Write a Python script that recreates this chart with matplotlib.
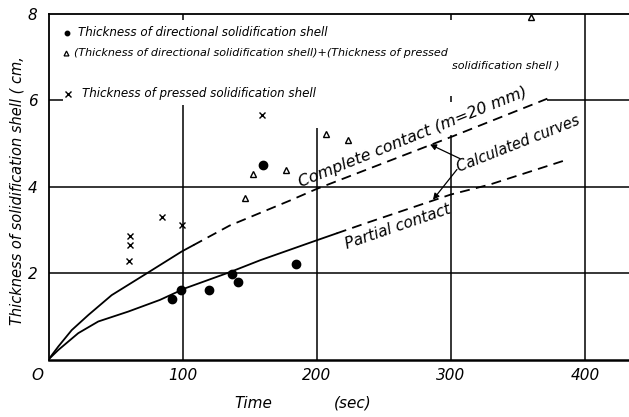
import numpy as np
import matplotlib
matplotlib.use("Agg")
import matplotlib.pyplot as plt

# ---------------- data ----------------
dir_t = [92, 99, 120, 136.5, 141, 184.5, 160]
dir_y = [1.40, 1.61, 1.61, 1.98, 1.80, 2.22, 4.51]

sum_t = [146.5, 152.7, 177.1, 206.7, 223.6, 360]
sum_y = [3.74, 4.30, 4.38, 5.22, 5.09, 7.92]

prs_t = [60.8, 60.8, 60, 85, 99.8, 159.4]
prs_y = [2.85, 2.66, 2.27, 3.31, 3.12, 5.65]

complete_t = [0, 7.3, 17.3, 29.7, 47.1, 72, 99.3, 135, 180, 200, 250, 300, 372]
complete_y = [0, 0.3, 0.68, 1.03, 1.49, 1.97, 2.5, 3.1, 3.68, 3.95, 4.55, 5.15, 6.04]
complete_solid_end = 108

partial_t = [0, 7.3, 22.2, 37.1, 59.5, 83.1, 102, 135, 158, 200, 237, 300, 329, 385]
partial_y = [0, 0.22, 0.61, 0.88, 1.11, 1.38, 1.65, 2.02, 2.3, 2.76, 3.16, 3.82, 4.05, 4.61]
partial_solid_end = 215

x_ticks = [100, 200, 300, 400]
x_ticklabels = ["100", "200", "300", "400"]
y_ticks = [2, 4, 6, 8]
y_ticklabels = ["2", "4", "6", "8"]

# partial grid lines (as drawn in the original)
vgrid_x = [100, 200, 300, 400, 300, 100, 300]
vgrid_y0 = [0, 0, 0, 0, 5.97, 7.85, 7.85]
vgrid_y1 = [5.9, 5.36, 5.2, 8, 6.1, 8, 8]
hgrid_y = [2, 4, 6, 6]
hgrid_x0 = [0, 0, 0, 372]
hgrid_x1 = [440, 440, 10.5, 440]

legend_texts = [
    "Thickness of directional solidification shell",
    "(Thickness of directional solidification shell)+(Thickness of pressed",
    "solidification shell )",
    "Thickness of pressed solidification shell",
]

# ---------------- figure ----------------
W, H = 629, 417
fig = plt.figure(figsize=(W / 100, H / 100), dpi=100)
fig.patch.set_facecolor("white")
ax = fig.add_axes([48.5 / W, 57.5 / H, 1 - 48.5 / W, (359.5 - 14) / H])
ax.set_xlim(0, (W - 48.5) / 1.341)
ax.set_ylim(0, 8)

ax.spines["right"].set_visible(False)
ax.spines["bottom"].set_linewidth(1.8)
ax.spines["top"].set_linewidth(1.3)
ax.spines["left"].set_linewidth(1.3)

ax.set_xticks(x_ticks)
ax.set_xticklabels(x_ticklabels)
ax.set_yticks(y_ticks)
ax.set_yticklabels(y_ticklabels)
ax.tick_params(axis="both", length=0, labelsize=11)
ax.tick_params(axis="x", pad=6)
ax.tick_params(axis="y", pad=8)
for lab in ax.get_xticklabels() + ax.get_yticklabels():
    lab.set_fontstyle("italic")

# grid segments
ax.vlines(vgrid_x, vgrid_y0, vgrid_y1, colors="black", lw=1.1, clip_on=False)
ax.hlines(hgrid_y, hgrid_x0, hgrid_x1, colors="black", lw=1.1)

# curves
def draw_curve(t, y, split):
    t = np.asarray(t, float)
    y = np.asarray(y, float)
    ys = np.interp(split, t, y)
    m1 = t < split
    ts = np.append(t[m1], split)
    yss = np.append(y[m1], ys)
    m2 = t > split
    td = np.insert(t[m2], 0, split)
    yd = np.insert(y[m2], 0, ys)
    ax.plot(ts, yss, color="black", lw=1.3, solid_joinstyle="round")
    ln, = ax.plot(td, yd, color="black", lw=1.3)
    ln.set_dashes((5.5, 3.5))

draw_curve(complete_t, complete_y, complete_solid_end)
draw_curve(partial_t, partial_y, partial_solid_end)

# data points
ax.plot(dir_t, dir_y, "o", color="black", ms=6, zorder=5)
ax.plot(sum_t, sum_y, "^", mfc="white", mec="black", mew=1.0, ms=4.5, zorder=5)
ax.plot(prs_t, prs_y, "x", color="black", ms=4.5, mew=1.0, zorder=5)

# curve annotations
def px2data(px, py):
    return ((px - 48.5) / 1.341, (359.5 - py) / 43.15)

ax.text(*px2data(413, 137), "Complete contact (m=20 mm)", rotation=22,
        rotation_mode="anchor", ha="center", va="center", fontsize=11.5,
        fontstyle="italic")
ax.text(*px2data(398, 227), "Partial contact", rotation=19,
        rotation_mode="anchor", ha="center", va="center", fontsize=11,
        fontstyle="italic")
ax.text(*px2data(518, 144), "Calculated curves", rotation=21.5,
        rotation_mode="anchor", ha="center", va="center", fontsize=10.5,
        fontstyle="italic")
ax.annotate("", xy=(284.5, 4.98), xytext=(306.9, 4.65),
            arrowprops=dict(arrowstyle="-|>", color="black", lw=0.9,
                            mutation_scale=9, shrinkA=0, shrinkB=0))
ax.annotate("", xy=(286.7, 3.70), xytext=(304.6, 4.40),
            arrowprops=dict(arrowstyle="-|>", color="black", lw=0.9,
                            mutation_scale=9, shrinkA=0, shrinkB=0))

# legend (hand drawn in original)
def fx(px):
    return px / W

def fy(py):
    return 1 - py / H

fig.text(fx(78), fy(32), legend_texts[0], fontsize=8.6, fontstyle="italic",
         ha="left", va="center")
fig.text(fx(74), fy(52.5), legend_texts[1], fontsize=8.0, fontstyle="italic",
         ha="left", va="center")
fig.text(fx(452), fy(66), legend_texts[2], fontsize=8.0, fontstyle="italic",
         ha="left", va="center")
fig.text(fx(82), fy(93.5), legend_texts[3], fontsize=8.6, fontstyle="italic",
         ha="left", va="center")
ax.plot(*px2data(67, 33), "o", color="black", ms=3.2, clip_on=False)
ax.plot(*px2data(66, 53), "^", mfc="white", mec="black", mew=0.9, ms=3.5,
        clip_on=False)
ax.plot(*px2data(68, 94), "x", color="black", ms=4, mew=1.0, clip_on=False)

# origin label and axis labels
fig.text(fx(37), fy(376), "O", fontsize=11, fontstyle="italic",
         ha="center", va="center")
fig.text(fx(253), fy(403), "Time", fontsize=11, fontstyle="italic",
         ha="center", va="center")
fig.text(fx(353), fy(403), "(sec)", fontsize=11, fontstyle="italic",
         ha="center", va="center")
fig.text(fx(17), fy(191), "Thickness of solidification shell ( cm,",
         fontsize=10.5, fontstyle="italic", rotation=90,
         ha="center", va="center")

fig.savefig("out.png", dpi=100, facecolor="white")
